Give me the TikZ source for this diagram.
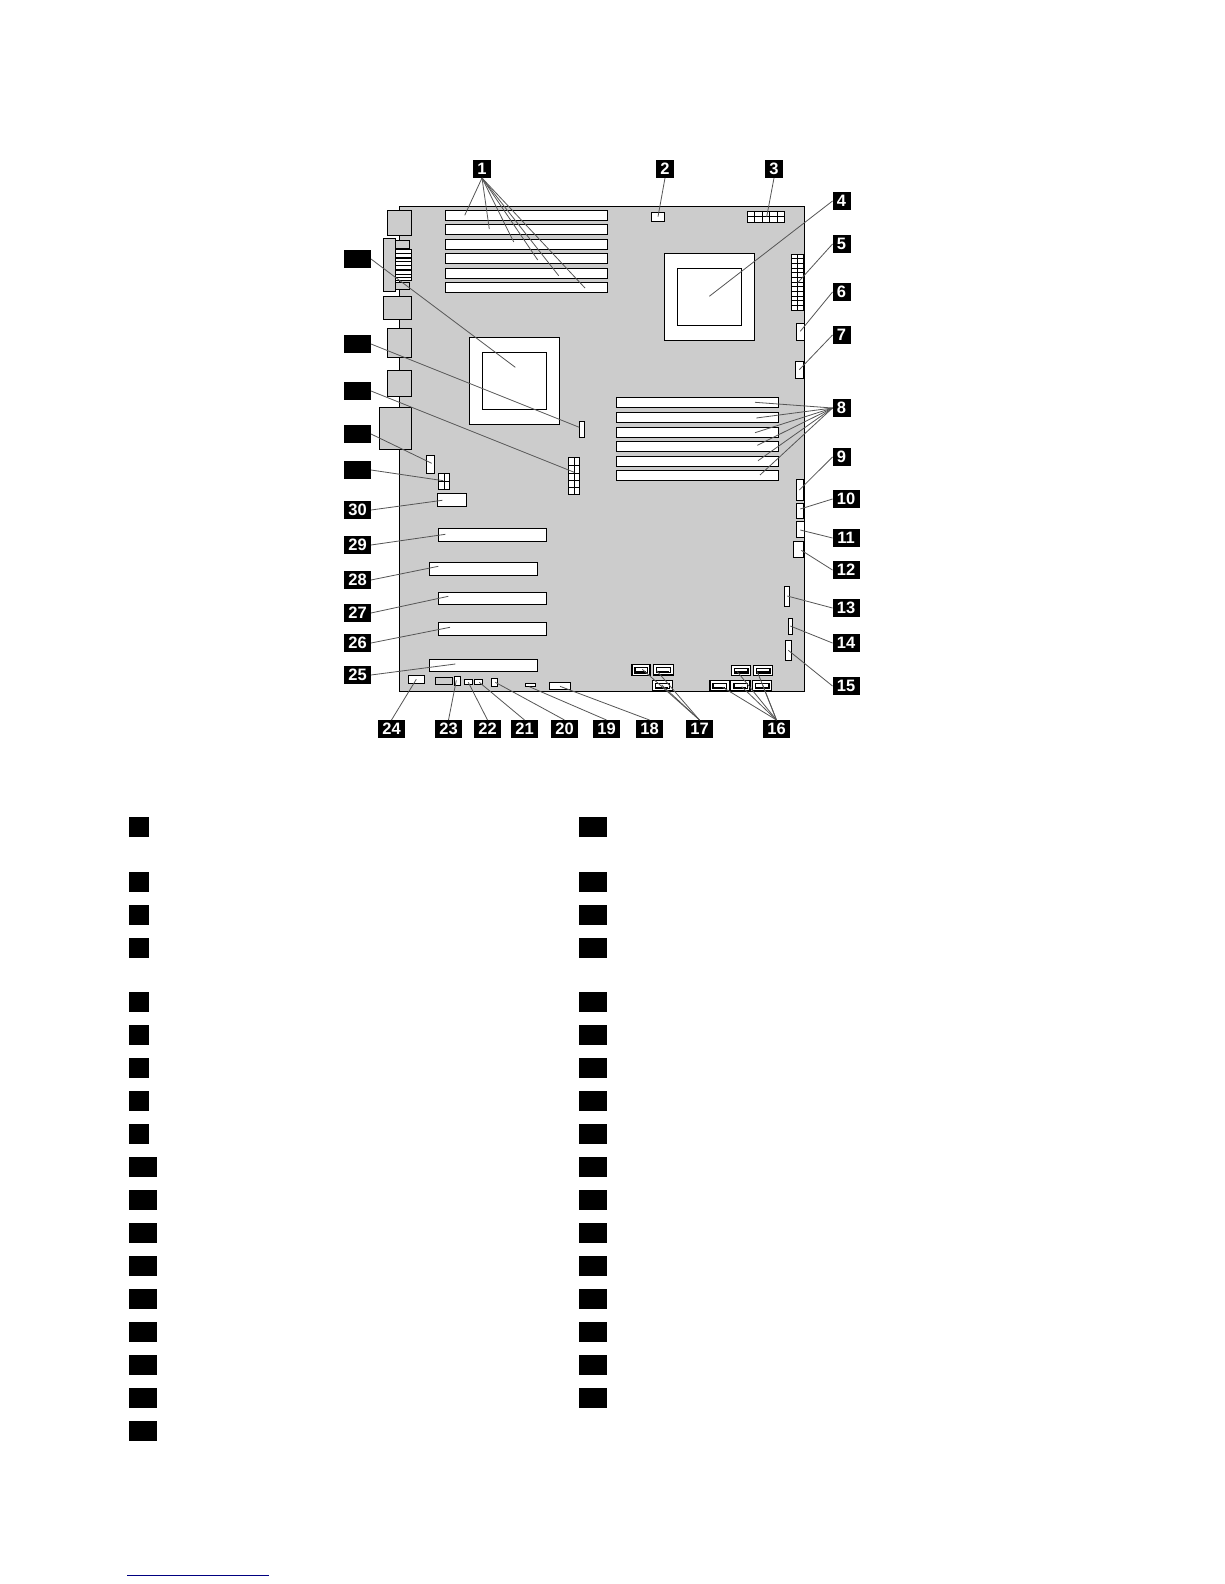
\documentclass[tikz,border=0pt]{standalone}
\usepackage{fontspec}
\setmainfont{Liberation Sans}
\definecolor{board}{HTML}{CCCCCC}
\definecolor{linkblue}{HTML}{000080}
\definecolor{leadgrey}{HTML}{555555}
\tikzset{
  part/.style={draw=black,line width=1.3pt,fill=white},
  greypart/.style={draw=black,line width=1.3pt,fill=board},
  gridline/.style={draw=black,line width=1pt},
  lead/.style={draw=leadgrey,line width=0.8pt},
  labs/.style={fill=black,text=white,inner sep=0pt,outer sep=0pt,anchor=north west,minimum width=18pt,minimum height=18pt,font=\fontsize{16.5}{16.5}\selectfont\bfseries},
  labd/.style={labs,minimum width=27pt},
  legs/.style={fill=black,inner sep=0pt,outer sep=0pt,anchor=north west,minimum width=20pt,minimum height=19.5pt},
  legd/.style={legs,minimum width=28pt},
}
\newcommand{\satabox}[4]{%
  \draw[part] (#1,#2) rectangle (#3,#4);
  \draw[line width=1.2pt] (#1+2.8,#2+2.8) rectangle (#3-2.8,#4-2.8);
  \draw[line width=1.6pt] (#1+3.5,#4-3.6) -- (#3-4,#4-3.6);
  \draw[line width=1.3pt] (#1+3.5,#2+3) -- (#1+3.5,#4-3);
}
\begin{document}
\begin{tikzpicture}[x=1pt,y=-1pt]
\useasboundingbox[fill=white] (0,0) rectangle (1224,1584);
% board
\draw[greypart] (399.3,206.7) rectangle (804.3,691.3);
% rear I/O
\draw[greypart] (387.3,210.3) rectangle (411.7,235.7);
\draw[greypart] (383.3,238.3) rectangle (395.7,291.7);
\draw[greypart] (395.7,240.3) rectangle (409.7,248.7);
\draw[part] (395.7,249.3) rectangle (411.7,280.7);
\foreach \yy in {253.8,258,261.6,265.5,270,274.8,277.5}
  \draw[line width=1.1pt] (395.7,\yy) -- (411.7,\yy);
\draw[greypart] (395.7,282.3) rectangle (409.7,289.3);
\draw[greypart] (383.3,296.3) rectangle (411.7,319.3);
\draw[greypart] (387.3,328.3) rectangle (411.7,357.3);
\draw[greypart] (387.3,370.3) rectangle (411.7,396.3);
\draw[greypart] (379.3,407.3) rectangle (411.7,449.3);
% top memory slots
\foreach \yy in {210.3,224.3,239.3,253.3,268.3,282.3}
  \draw[part] (445.3,\yy) rectangle (607.7,\yy+10);
% right memory slots
\foreach \yy in {397.3,412.3,427.3,441.3,456.3,470.3}
  \draw[part] (616.3,\yy) rectangle (778.7,\yy+10);
% CPU sockets
\draw[part] (469.3,337.7) rectangle (559.3,424.3);
\draw[part] (482.3,352.3) rectangle (546.3,409.3);
\draw[part] (664.3,253.3) rectangle (754.3,340.3);
\draw[part] (677.3,268.3) rectangle (741.3,325.3);
% small connectors, top and right
\draw[part] (651.3,212.3) rectangle (664.3,221.3);
\draw[part] (747.5,211.3) rectangle (784.3,222.3);
\draw[gridline] (747.5,216.8) -- (784.3,216.8);
\foreach \xx in {754.9,762.2,769.6,777}
  \draw[gridline] (\xx,211.3) -- (\xx,222.3);
\draw[part] (791.3,254.3) rectangle (803.3,310.3);
\draw[gridline] (797.3,254.3) -- (797.3,310.3);
\foreach \k in {1,...,11}
  \draw[gridline] (791.3,254.3+\k*4.667) -- (803.3,254.3+\k*4.667);
\draw[part] (796.3,323.3) rectangle (804.3,340.3);
\draw[part] (795.3,361.3) rectangle (803.3,378.3);
\draw[part] (796.3,479.3) rectangle (803.3,500.3);
\draw[part] (796.3,503.3) rectangle (803.3,518.3);
\draw[part] (796.3,521.3) rectangle (804.3,537.3);
\draw[part] (793.3,541.3) rectangle (803.3,557.3);
\draw[part] (784.3,586.3) rectangle (789.3,606.3);
\draw[part] (788.3,618.3) rectangle (792.3,634.3);
\draw[part] (785.3,640.3) rectangle (791.3,660.3);
% centre and left connectors
\draw[part] (579.3,421.3) rectangle (584.7,437.3);
\draw[part] (568.3,457.3) rectangle (579.7,494.3);
\draw[gridline] (574,457.3) -- (574,494.3);
\foreach \yy in {465.3,473,480,487.3}
  \draw[gridline] (568.3,\yy) -- (579.7,\yy);
\draw[part] (426.3,455.3) rectangle (434.3,473.3);
\draw[part] (438.3,473.3) rectangle (449.7,489.3);
\draw[gridline] (444,473.3) -- (444,489.3);
\draw[gridline] (438.3,481.3) -- (449.7,481.3);
\draw[part] (437.3,493.3) rectangle (466.3,506.3);
% expansion slots
\draw[part] (438.3,528.3) rectangle (546.3,541.3);
\draw[part] (429.3,562.3) rectangle (537.3,575.3);
\draw[part] (438.3,592.3) rectangle (546.3,604.3);
\draw[part] (438.3,622.3) rectangle (546.3,635.3);
\draw[part] (429.3,659.3) rectangle (537.3,671.3);
% bottom-edge connectors
\draw[part] (408.3,675.3) rectangle (424.3,683.3);
\draw[greypart] (435.3,677.3) rectangle (452.3,684.3);
\draw[part] (454.3,676.3) rectangle (460.3,685.7);
\draw[part] (464.3,679.3) rectangle (472.3,684.3);
\draw[part] (474.3,679.3) rectangle (482.3,684.3);
\draw[part] (491.3,678.3) rectangle (497.3,686.3);
\draw[part] (525.3,683.3) rectangle (535.3,686.3);
\draw[part] (549.3,682.3) rectangle (570.3,689.3);
% SATA ports
\satabox{632}{664.7}{650}{675.7}
\satabox{653.3}{664.7}{673.3}{675}
\satabox{652.3}{680.3}{672.3}{691}
\satabox{731.3}{665.3}{750.7}{675.7}
\satabox{753.3}{665.3}{772.7}{675.7}
\satabox{710}{680.3}{729.3}{691}
\satabox{730.7}{680.3}{750}{691}
\satabox{752.3}{680.3}{771.7}{691}
% callout labels
\node[labs] (l1) at (473,160) {1};
\node[labs] (l2) at (656,160) {2};
\node[labs] (l3) at (765,160) {3};
\node[labs] (l4) at (832.5,192) {4};
\node[labs] (l5) at (832.5,235) {5};
\node[labs] (l6) at (832.5,283) {6};
\node[labs] (l7) at (832.5,326) {7};
\node[labs] (l8) at (832.5,399) {8};
\node[labs] (l9) at (832.5,448) {9};
\node[labd] (l10) at (832.5,490) {10};
\node[labd] (l11) at (832.5,529) {11};
\node[labd] (l12) at (832.5,561) {12};
\node[labd] (l13) at (832.5,599) {13};
\node[labd] (l14) at (832.5,634) {14};
\node[labd] (l15) at (832.5,677) {15};
\node[labd] (l16) at (763,720) {16};
\node[labd] (l17) at (686,720) {17};
\node[labd] (l18) at (636,720) {18};
\node[labd] (l19) at (593,720) {19};
\node[labd] (l20) at (551,720) {20};
\node[labd] (l21) at (511,720) {21};
\node[labd] (l22) at (474,720) {22};
\node[labd] (l23) at (435,720) {23};
\node[labd] (l24) at (378,720) {24};
\node[labd] (l25) at (344,666) {25};
\node[labd] (l26) at (344,634) {26};
\node[labd] (l27) at (344,604) {27};
\node[labd] (l28) at (344,571) {28};
\node[labd] (l29) at (344,536) {29};
\node[labd] (l30) at (344,501) {30};
\node[labd] (l31) at (344,461) {};
\node[labd] (l32) at (344,425) {};
\node[labd] (l33) at (344,382) {};
\node[labd] (l34) at (344,335) {};
\node[labd] (l35) at (344,250) {};
% leader end points
\coordinate (e1a) at (464.7,215.3);
\coordinate (e1b) at (489.3,229);
\coordinate (e1c) at (513.7,242);
\coordinate (e1d) at (537.7,260);
\coordinate (e1e) at (558.7,275.7);
\coordinate (e1f) at (585,288);
\coordinate (e2) at (658,216.7);
\coordinate (e3) at (766.7,216.7);
\coordinate (e4) at (709.3,296.3);
\coordinate (e5) at (797.7,282.7);
\coordinate (e6) at (800.3,331.3);
\coordinate (e7) at (799.3,369.7);
\coordinate (e8a) at (755,402.3);
\coordinate (e8b) at (756.3,418);
\coordinate (e8c) at (755,432.7);
\coordinate (e8d) at (757.3,445.3);
\coordinate (e8e) at (758,460.7);
\coordinate (e8f) at (760,475);
\coordinate (e9) at (799.3,490);
\coordinate (e10) at (800.3,509);
\coordinate (e11) at (800.3,530);
\coordinate (e12) at (801.3,550.3);
\coordinate (e13) at (787.3,596);
\coordinate (e14) at (790.3,626);
\coordinate (e15) at (788.3,650.3);
\coordinate (e16a) at (722.7,687.3);
\coordinate (e16b) at (737.3,671.7);
\coordinate (e16c) at (741.7,686.7);
\coordinate (e16d) at (757.3,671.7);
\coordinate (e16e) at (762.7,685);
\coordinate (e17a) at (642.3,669.3);
\coordinate (e17b) at (656.7,670.7);
\coordinate (e17c) at (661.7,685);
\coordinate (e18) at (560,686.3);
\coordinate (e19) at (529.3,686.7);
\coordinate (e20) at (495.3,682.3);
\coordinate (e21) at (479.3,682.3);
\coordinate (e22) at (468.3,682.3);
\coordinate (e23) at (456.3,680.3);
\coordinate (e24) at (416.3,679.3);
\coordinate (e25) at (455.3,664);
\coordinate (e26) at (450,627.3);
\coordinate (e27) at (448.3,596.3);
\coordinate (e28) at (438.3,566.3);
\coordinate (e29) at (445.3,534.3);
\coordinate (e30) at (442.3,500.3);
\coordinate (e31) at (443.3,480.7);
\coordinate (e32) at (431.7,463.3);
\coordinate (e33) at (574.3,472.3);
\coordinate (e34) at (579.3,427.3);
\coordinate (e35) at (515.3,367.3);
% leaders
\foreach \e in {e1a,e1b,e1c,e1d,e1e,e1f} \draw[lead] (l1.south) -- (\e);
\draw[lead] (l2.south) -- (e2);
\draw[lead] (l3.south) -- (e3);
\foreach \n in {4,5,6,7,9,10,11,12,13,14,15} \draw[lead] (l\n.west) -- (e\n);
\foreach \e in {e8a,e8b,e8c,e8d,e8e,e8f} \draw[lead] (l8.west) -- (\e);
\foreach \e in {e16a,e16b,e16c,e16d,e16e} \draw[lead] (l16.north) -- (\e);
\foreach \e in {e17a,e17b,e17c} \draw[lead] (l17.north) -- (\e);
\foreach \n in {18,...,24} \draw[lead] (l\n.north) -- (e\n);
\foreach \n in {25,...,35} \draw[lead] (l\n.east) -- (e\n);
% legend markers
\foreach \yy [count=\i] in {817,872,905,938,992,1025,1058,1091,1124}
  \node[legs] (la\i) at (129,\yy) {};
\foreach \yy [count=\i] in {1157,1190,1223,1256,1289,1322,1355,1388,1421}
  \node[legd] (lb\i) at (129,\yy) {};
\foreach \yy [count=\i] in {817,872,905,938,992,1025,1058,1091,1124,1157,1190,1223,1256,1289,1322,1355,1388}
  \node[legd] (lc\i) at (579,\yy) {};
% footer rule
\draw[draw=linkblue,line width=1pt] (127,1575) -- (269,1575);
\end{tikzpicture}
\end{document}
